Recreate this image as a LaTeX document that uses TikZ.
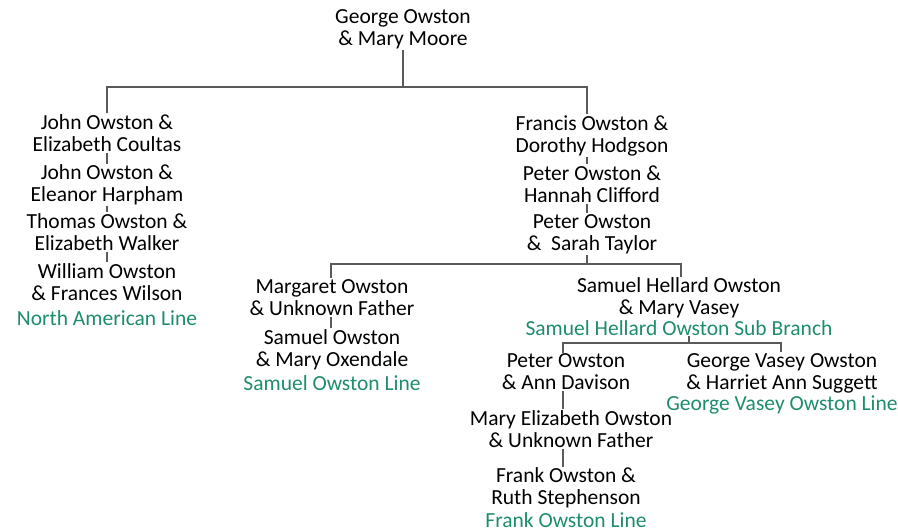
\documentclass[tikz,border=0pt]{standalone}
\usepackage{fontspec}
\setmainfont{Carlito}
\usepackage{xcolor}
\usetikzlibrary{positioning}
\definecolor{linegreen}{RGB}{30,140,110}
\definecolor{linkgray}{RGB}{90,90,90}

\begin{document}
\begin{tikzpicture}[
    x=1pt, y=-1pt,
    person/.style={align=center, inner sep=1pt, font=\fontsize{21.5}{22}\selectfont},
    tag/.style={person, text=linegreen},
    link/.style={draw=linkgray, line width=1.3pt}
]
\useasboundingbox (0,0) rectangle (898,531);
% family tree
\node[person] (george) at (403,29) {George Owston\\\& Mary Moore};
\coordinate (bar1) at (403,87);

\node[person] (john1) at (107,133) {John Owston \&\\Elizabeth Coultas};
\node[person] (john2) at (107,185) {John Owston \&\\Eleanor Harpham};
\node[person] (thomas) at (107,232) {Thomas Owston \&\\Elizabeth Walker};
\node[person] (william) at (107,282) {William Owston\\\& Frances Wilson};
\node[tag, below=8pt of william] (northline) {North American Line};

\node[person] (francis) at (592,135.5) {Francis Owston \&\\Dorothy Hodgson};
\node[person] (peter1) at (592,184) {Peter Owston \&\\Hannah Clifford};
\node[person] (peter2) at (592,234) {Peter Owston\\\&\ \ Sarah Taylor};
\coordinate (bar2) at (587,264);

\node[person] (margaret) at (332,297.5) {Margaret Owston\\\& Unknown Father};
\node[person] (samuel) at (332,349.5) {Samuel Owston\\\& Mary Oxendale};
\node[tag, below=3.5pt of samuel] (samline) {Samuel Owston Line};

\node[person] (hellard) at (679,298) {Samuel Hellard Owston\\\& Mary Vasey};
\node[tag, below=-0.5pt of hellard] (hellardline) {Samuel Hellard Owston Sub Branch};
\coordinate (bar3) at (689,343);

\node[person] (peter3) at (566,372) {Peter Owston\\\& Ann Davison};
\node[person] (maryeliz) at (571,429) {Mary Elizabeth Owston\\\& Unknown Father};
\node[person] (frank) at (566,488) {Frank Owston \&\\Ruth Stephenson};
\node[tag, below=2pt of frank] (frankline) {Frank Owston Line};

\node[person] (vasey) at (782,373.5) {George Vasey Owston\\\& Harriet Ann Suggett};
\node[tag, below=0pt of vasey] (vaseyline) {George Vasey Owston Line};

\draw[link] (george) -- (bar1);
\draw[link] (john1.north -| 107,0) |- (bar1) -| (587,0 |- francis.north);
\draw[link] (john1) -- (john2);
\draw[link] (john2) -- (thomas);
\draw[link] (thomas) -- (william);
\draw[link] (587,0 |- francis.south) -- (587,0 |- peter1.north);
\draw[link] (587,0 |- peter1.south) -- (587,0 |- peter2.north);
\draw[link] (587,0 |- peter2.south) -- (bar2);
\draw[link] (331,0 |- margaret.north) |- (bar2) -| (681,0 |- hellard.north);
\draw[link] (331,0 |- margaret.south) -- (331,0 |- samuel.north);
\draw[link] (689,0 |- hellardline.south) -- (bar3);
\draw[link] (563,0 |- peter3.north) |- (bar3) -| (781,0 |- vasey.north);
\draw[link] (563,0 |- peter3.south) -- (563,0 |- maryeliz.north);
\draw[link] (563,0 |- maryeliz.south) -- (563,0 |- frank.north);
\end{tikzpicture}
\end{document}
